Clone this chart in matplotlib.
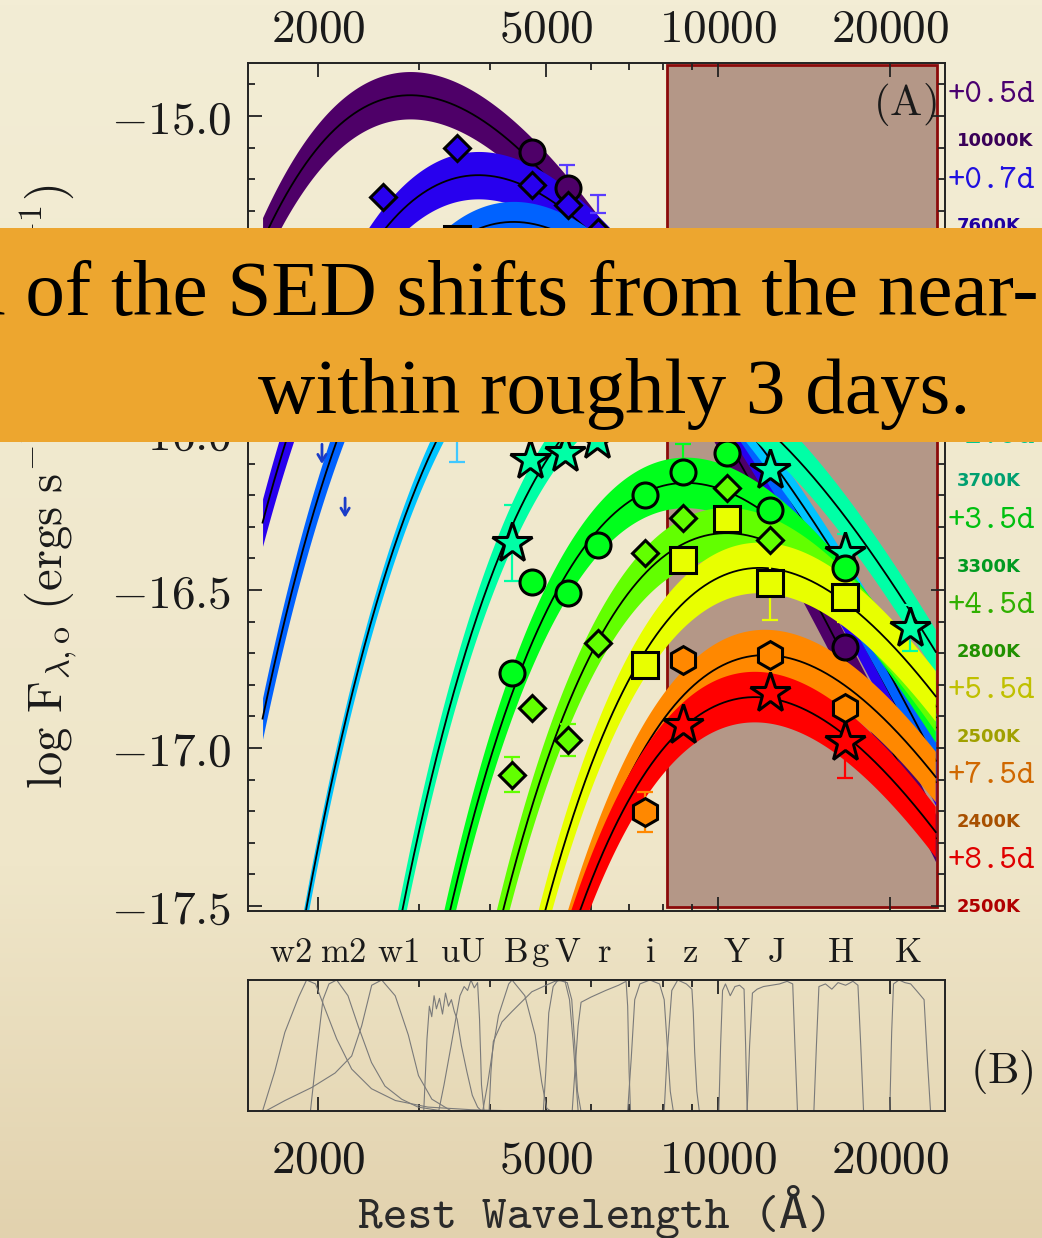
import numpy as np
import matplotlib.pyplot as plt
import matplotlib.transforms as mtransforms
from matplotlib.patches import Rectangle
from matplotlib.colors import LinearSegmentedColormap
from matplotlib.ticker import MultipleLocator, NullFormatter

plt.rcParams['mathtext.fontset'] = 'cm'

# ---- SED epochs (top to bottom in the legend) ----
epoch_labels = ['+0.5d', '+0.7d', '+1.0d', '+1.5d', '+2.5d',
                '+3.5d', '+4.5d', '+5.5d', '+7.5d', '+8.5d']
temp_labels = ['10000K', '7600K', '6600K', '5100K', '3700K',
               '3300K', '2800K', '2500K', '2400K', '2500K']
temps_K = [10000, 7600, 6600, 5100, 3650, 3300, 2800, 2450, 2400, 2500]
peak_logf = [-14.934, -15.187, -15.335, -15.61, -15.827,
             -16.161, -16.320, -16.43, -16.706, -16.839]
band_dex = [0.075, 0.075, 0.065, 0.045, 0.07, 0.08, 0.08, 0.08, 0.08, 0.08]
sed_range = [1600, 24000]

# photometry per epoch (rest wavelength in A, log flux, error)
obs_lam = [
    [4733, 5470, 16682],
    [2598, 3500, 4733, 5470, 6175],
    [3500],
    [],
    [4368, 4696, 5406, 6148, 12338, 16682, 21670],
    [4368, 4733, 5470, 6175, 7457, 8692, 10376, 12338, 16682],
    [4368, 4733, 5470, 6175, 7457, 8692, 10376, 12338],
    [7457, 8692, 10376, 12338, 16682],
    [7457, 8692, 12338, 16682],
    [8692, 12338, 16682],
]
obs_logf = [
    [-15.114, -15.228, -16.680],
    [-15.256, -15.101, -15.218, -15.282, -15.367],
    [-15.39],
    [],
    [-16.351, -16.089, -16.066, -16.025, -16.120, -16.383, -16.620],
    [-16.763, -16.475, -16.509, -16.358, -16.199, -16.127, -16.066, -16.247, -16.430],
    [-17.085, -16.873, -16.975, -16.668, -16.383, -16.272, -16.177, -16.342],
    [-16.737, -16.405, -16.275, -16.478, -16.522],
    [-17.203, -16.722, -16.706, -16.873],
    [-16.927, -16.826, -16.981],
]
obs_err = [
    [0, 0, 0.032],
    [0, 0, 0, 0, 0],
    [0],
    [],
    [0.119, 0, 0, 0, 0, 0.06, 0.073],
    [0, 0, 0, 0, 0, 0.09, 0, 0, 0],
    [0.055, 0, 0.05, 0, 0, 0, 0, 0],
    [0, 0, 0, 0.117, 0.08],
    [0.063, 0, 0, 0.03],
    [0, 0, 0.115],
]
# error bars whose markers are hidden
bar_lam = [5450, 6160, 3500]
bar_logf = [-15.19, -15.278, -15.995]
bar_err = [0.035, 0.028, 0.1]
bar_epoch = [1, 1, 3]
# upper limits
lim_lam = [2032, 2230]
lim_logf = [-16.03, -16.20]

shade_lam = [8140, 24130]

band_names = ['w2', 'm2', 'w1', 'u', 'U', 'B', 'g', 'V', 'r', 'i', 'z', 'Y', 'J', 'H', 'K']
band_label_lam = [1787, 2212, 2760, 3402, 3703, 4420, 4889, 5449, 6325, 7610,
                  8943, 10762, 12638, 16357, 21416]

# filter transmission curves (panel B)
filter_lam = [
    [1600, 1680, 1750, 1850, 1910, 1980, 2057, 2156, 2290, 2480, 2730, 3110, 3700, 4500],
    [1940, 1990, 2040, 2090, 2156, 2256, 2350, 2480, 2618, 2800, 2990, 3300],
    [1620, 1751, 1951, 2142, 2290, 2384, 2482, 2584, 2728, 2876, 2996, 3162, 3420],
    [3060, 3100, 3130, 3160, 3190, 3220, 3260, 3300, 3340, 3380, 3420, 3460, 3500,
     3560, 3640, 3720, 3800, 3860],
    [3250, 3320, 3400, 3480, 3540, 3600, 3650, 3700, 3750, 3800, 3830, 3860, 3900],
    [3880, 3954, 4050, 4134, 4307, 4365, 4596, 4790, 4918, 5020, 5100],
    [3980, 4010, 4048, 4192, 4365, 4726, 5184, 5396, 5500, 5581, 5694],
    [4950, 5000, 5060, 5150, 5250, 5450, 5550, 5620, 5680, 5760],
    [5560, 5620, 5694, 5762, 6000, 6361, 6700, 6906, 6950, 6990, 7030],
    [6950, 7050, 7150, 7300, 7600, 7900, 8050, 8150, 8250, 8350],
    [8050, 8150, 8300, 8500, 8800, 9000, 9050, 9100, 9180, 9270],
    [10030, 10100, 10180, 10300, 10500, 10700, 10900, 11100, 11170, 11240],
    [11240, 11350, 11480, 11700, 12000, 12400, 12800, 13200, 13500, 13620, 13760],
    [14700, 14850, 15000, 15400, 15800, 16200, 16700, 17200, 17550, 17750, 17950],
    [19950, 20100, 20250, 20700, 21200, 21700, 22200, 22600, 22900, 23200, 23500],
]
filter_trans = [
    [0, 0.3, 0.6, 0.87, 1.0, 0.97, 0.78, 0.55, 0.32, 0.17, 0.08, 0.03, 0.01, 0],
    [0, 0.45, 0.85, 0.97, 1.0, 0.88, 0.65, 0.37, 0.19, 0.09, 0.03, 0],
    [0, 0.08, 0.18, 0.29, 0.42, 0.65, 0.96, 1.0, 0.88, 0.58, 0.27, 0.09, 0],
    [0, 0.55, 0.8, 0.72, 0.88, 0.78, 0.86, 0.74, 0.9, 0.8, 0.85, 0.76, 0.7,
     0.5, 0.3, 0.12, 0.03, 0],
    [0, 0.2, 0.45, 0.7, 0.88, 0.95, 0.92, 1.0, 0.94, 0.98, 0.7, 0.2, 0],
    [0, 0.2, 0.5, 0.73, 0.97, 1.0, 0.88, 0.58, 0.22, 0.02, 0],
    [0, 0.3, 0.53, 0.68, 0.76, 0.91, 0.99, 1.0, 0.85, 0.53, 0],
    [0, 0.3, 0.75, 0.95, 1, 0.98, 0.85, 0.5, 0.15, 0],
    [0, 0.3, 0.65, 0.83, 0.87, 0.92, 0.96, 0.99, 0.8, 0.3, 0],
    [0, 0.4, 0.85, 0.97, 1.0, 0.97, 0.85, 0.5, 0.15, 0],
    [0, 0.45, 0.92, 1.0, 0.97, 0.93, 0.75, 0.45, 0.15, 0],
    [0, 0.5, 0.92, 0.97, 0.88, 0.95, 0.96, 0.93, 0.5, 0],
    [0, 0.5, 0.9, 0.93, 0.95, 0.96, 0.97, 0.99, 0.97, 0.5, 0],
    [0, 0.5, 0.95, 0.97, 0.93, 0.98, 0.96, 0.99, 0.96, 0.5, 0],
    [0, 0.6, 0.97, 1.0, 0.98, 0.97, 0.92, 0.88, 0.85, 0.4, 0],
]

# styles
colors = ['#4e0068', '#2800ee', '#0062ff', '#00c4ff', '#00ffa6',
          '#00ff1c', '#62ff00', '#e8ff00', '#ff8800', '#ff0000']
d_colors = ['#4a0070', '#2010e0', '#1050f0', '#00a8e0', '#00c890',
            '#00c010', '#30b000', '#c0c000', '#d06800', '#e00000']
k_colors = ['#3a0058', '#2000a0', '#0040c0', '#0080b0', '#00a070',
            '#009a20', '#209000', '#a0a000', '#a85000', '#b00000']
markers = ['o', 'D', 's', 'o', '*', 'o', 'D', 's', 'h', '*']
msizes = {'o': 18, 'D': 13, 's': 19, '*': 30, 'h': 20}
TT = ['cmtt10', 'DejaVu Sans Mono']

fig = plt.figure(figsize=(10.42, 12.38), dpi=100)

# parchment background
bg = fig.add_axes([0, 0, 1, 1], zorder=-10)
parch = LinearSegmentedColormap.from_list(
    'parch', [(0, '#f3edd5'), (0.7, '#efe6c9'), (1, '#e2d2ae')])
bg.imshow(np.linspace(0, 1, 256)[:, None], aspect='auto', cmap=parch,
          extent=[0, 1, 0, 1], origin='upper')
bg.axis('off')

W, H = 1042, 1238
ax = fig.add_axes([248 / W, 1 - 911 / H, 697 / W, 848 / H])
ax.patch.set_alpha(0)
ax.set_xscale('log')
ax.set_xlim(1509, 24910)
ax.set_ylim(-17.516, -14.832)

trans = mtransforms.blended_transform_factory(ax.transData, ax.transAxes)
ax.add_patch(Rectangle((shade_lam[0], 0.005), shade_lam[1] - shade_lam[0], 0.993,
                       transform=trans, facecolor='#b49787', edgecolor='#8b0a0a',
                       lw=2, zorder=1))

# blackbody SEDs
lam = np.geomspace(sed_range[0], sed_range[1], 700)
C2 = 1.4388e8


def log_planck(l, T):
    return -5 * np.log10(l) - np.log10(np.expm1(C2 / (l * T)))


for i, T in enumerate(temps_K):
    lp = 2.8978e7 / T
    y = peak_logf[i] + log_planck(lam, T) - log_planck(lp, T)
    ax.fill_between(lam, y - band_dex[i], y + band_dex[i], color=colors[i],
                    lw=0, zorder=2 + 0.1 * i)
    ax.plot(lam, y, color='black', lw=1.3, zorder=2.05 + 0.1 * i)

# data points
for i in range(len(obs_lam)):
    if not obs_lam[i]:
        continue
    for l, f, e in zip(obs_lam[i], obs_logf[i], obs_err[i]):
        if e > 0:
            ax.errorbar(l, f, yerr=e, fmt='none', ecolor=colors[i],
                        elinewidth=1.6, capsize=6, capthick=1.6, zorder=18)
    m = markers[i]
    ax.plot(obs_lam[i], obs_logf[i], ls='none', marker=m, ms=msizes[m],
            mfc=colors[i], mec='black', mew=2.2, zorder=20)

for l, f, e, k in zip(bar_lam, bar_logf, bar_err, bar_epoch):
    c = '#5a3cff' if k == 1 else '#40c8ff'
    ax.errorbar(l, f, yerr=e, fmt='none', ecolor=c, elinewidth=1.6,
                capsize=6, capthick=1.6, zorder=18)

for l, f in zip(lim_lam, lim_logf):
    ax.annotate('', xy=(l, f - 0.08), xytext=(l, f),
                arrowprops=dict(arrowstyle='->,head_length=0.5,head_width=0.3',
                                color='#1a3cc8', lw=2), zorder=19)

# axes styling
for s in ax.spines.values():
    s.set_linewidth(1.4)
    s.set_color('#222222')
    s.set_zorder(30)
xt = [2000, 5000, 10000, 20000]
ax.set_xticks(xt, labels=['$%d$' % v for v in xt])
ax.set_xticks([3000, 4000, 6000, 7000, 8000, 9000], minor=True)
ax.xaxis.set_minor_formatter(NullFormatter())
yt = [-17.5, -17.0, -16.5, -16.0, -15.5, -15.0]
ax.set_yticks(yt, labels=['$%.1f$' % v for v in yt])
ax.yaxis.set_minor_locator(MultipleLocator(0.1))
ax.tick_params(which='both', direction='in', top=True, right=True,
               labelbottom=False, labeltop=True, color='#222222',
               labelcolor='#1a1a1a', labelsize=34, width=1.3)
ax.tick_params(which='major', length=10)
ax.tick_params(which='minor', length=5)
ax.tick_params(axis='y', pad=12)
ax.tick_params(axis='x', pad=8)

ax.text(-0.291, 0.5,
        r'$\mathrm{log\ F}_{\lambda,\mathrm{o}}\ \mathrm{(ergs\ s^{-1}\ cm^{-2}\ \AA^{-1})}$',
        transform=ax.transAxes, rotation=90, ha='center', va='center',
        fontsize=35, color='#1a1a1a')
ax.text(0.9426, 0.9505, r'$\mathrm{(A)}$', transform=ax.transAxes,
        ha='center', va='center', fontsize=31, color='#1a1a1a', zorder=40)

for name, lx in zip(band_names, band_label_lam):
    ax.text(lx, -0.048, r'$\mathrm{%s}$' % name, transform=trans,
            ha='center', va='center', fontsize=25, color='#1a1a1a')

for k in range(len(epoch_labels)):
    yd = (911 - (96 + 85.1 * k)) / 848
    yk = (911 - (141 + 85.1 * k)) / 848
    ax.text(1.0043, yd, epoch_labels[k], transform=ax.transAxes, family=TT,
            ha='left', va='center', fontsize=24, color=d_colors[k])
    ax.text(1.0172, yk, temp_labels[k], transform=ax.transAxes, ha='left',
            va='center', fontsize=13, fontweight='bold', family='DejaVu Sans',
            color=k_colors[k])

# ---- panel B: filter curves ----
axb = fig.add_axes([248 / W, 1 - 1111 / H, 697 / W, 131 / H])
axb.patch.set_alpha(0)
axb.set_xscale('log')
axb.set_xlim(1509, 24910)
axb.set_ylim(0, 1.0)
for fl, ft in zip(filter_lam, filter_trans):
    axb.plot(fl, ft, color='#7a7a7a', lw=0.8)
for s in axb.spines.values():
    s.set_linewidth(1.4)
    s.set_color('#222222')
axb.set_xticks(xt, labels=['$%d$' % v for v in xt])
axb.set_xticks([3000, 4000, 6000, 7000, 8000, 9000], minor=True)
axb.xaxis.set_minor_formatter(NullFormatter())
axb.set_yticks([])
axb.tick_params(which='both', direction='in', top=True, color='#222222',
                labelcolor='#1a1a1a', labelsize=34, width=1.3, pad=19)
axb.tick_params(which='major', length=10)
axb.tick_params(which='minor', length=5)
axb.text(1.0818, 0.298, r'$\mathrm{(B)}$', transform=axb.transAxes,
         ha='center', va='center', fontsize=32, color='#1a1a1a')
fig.text(595 / W, 1 - 1228 / H, 'Rest Wavelength (Å)', family=TT,
         ha='center', va='baseline', fontsize=34, color='#2a2a2a')

# ---- orange caption banner ----
fig.add_artist(Rectangle((0, 1 - 442 / H), 1, 214 / H, transform=fig.transFigure,
                         facecolor='#eda62f', edgecolor='none', zorder=50))
fig.text(-34 / W, 1 - 315 / H, 'n of the SED shifts from the near-',
         ha='left', va='baseline', fontsize=57, family='Liberation Serif',
         color='black', zorder=51)
fig.text(258 / W, 1 - 413 / H, 'within roughly 3 days.',
         ha='left', va='baseline', fontsize=57, family='Liberation Serif',
         color='black', zorder=51)

fig.savefig('out.png', dpi=100)
